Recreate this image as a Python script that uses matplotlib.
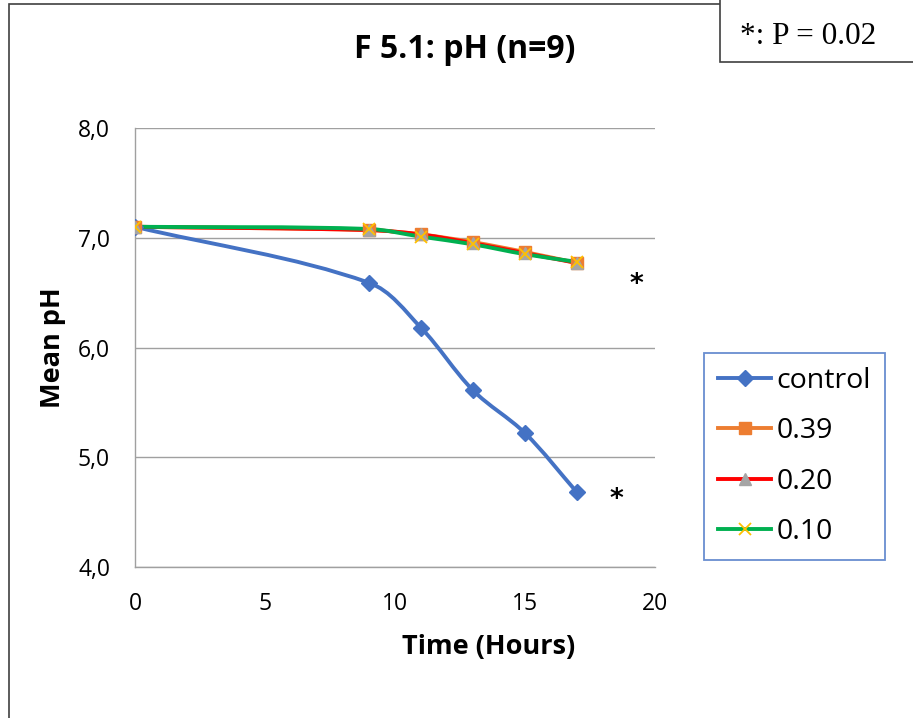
import matplotlib
matplotlib.use("Agg")
import numpy as np
import matplotlib.pyplot as plt
from matplotlib.path import Path
from matplotlib.patches import PathPatch, Rectangle
from matplotlib.lines import Line2D

# sampling times (hours) and mean pH per group
hours = [0, 9, 11, 13, 15, 17]
ph_control = [7.10, 6.59, 6.18, 5.61, 5.22, 4.68]
ph_039 = [7.10, 7.07, 7.03, 6.96, 6.87, 6.77]
ph_020 = [7.10, 7.07, 7.03, 6.95, 6.86, 6.77]
ph_010 = [7.10, 7.08, 7.01, 6.94, 6.85, 6.78]

x_ticks = [0, 5, 10, 15, 20]
y_ticks = [4.0, 5.0, 6.0, 7.0, 8.0]
y_ticklabels = ["4,0", "5,0", "6,0", "7,0", "8,0"]

FONT = "Open Sans"


def smooth_path(ax, xs, ys):
    # smoothed line through the points: cubic bezier segments built in pixel
    # space, tangent from the neighbours, handle length a third of the chord
    pts = ax.transData.transform(np.column_stack([xs, ys]).astype(float))
    n = len(pts)
    verts = [pts[0]]
    codes = [Path.MOVETO]

    def tangent(i):
        a = pts[max(i - 1, 0)]
        b = pts[min(i + 1, n - 1)]
        d = b - a
        return d / np.hypot(*d)

    for i in range(n - 1):
        p1, p2 = pts[i], pts[i + 1]
        h = np.hypot(*(p2 - p1)) / 3.0
        verts += [p1 + tangent(i) * h, p2 - tangent(i + 1) * h, p2]
        codes += [Path.CURVE4] * 3
    verts = ax.transData.inverted().transform(np.array(verts))
    return Path(verts, codes)


series = [
    ("control", ph_control, "#4472C4", dict(marker="D", ms=8, mfc="#4472C4", mec="#4472C4")),
    ("0.39", ph_039, "#ED7D31", dict(marker="s", ms=9, mfc="#ED7D31", mec="#ED7D31")),
    ("0.20", ph_020, "#FF0000", dict(marker="^", ms=9, mfc="#A5A5A5", mec="#A5A5A5")),
    ("0.10", ph_010, "#00B050", dict(marker="x", ms=9, mfc="#FFC000", mec="#FFC000", mew=1.3)),
]

fig = plt.figure(figsize=(9.13, 7.18), dpi=100)
ax = fig.add_axes([135 / 913, 1 - 567 / 718, 520 / 913, 439 / 718])
ax.set_xlim(0, 20)
ax.set_ylim(4.0, 8.0)

handles = []
for name, vals, col, mk in series:
    patch = PathPatch(smooth_path(ax, hours, vals), fill=False, edgecolor=col,
                      lw=2.8, capstyle="round", joinstyle="round", zorder=3)
    ax.add_patch(patch)
    ax.plot(hours, vals, linestyle="none", zorder=4, **mk)
    handles.append(Line2D([], [], color=col, lw=2.8, **mk))

ax.set_xticks(x_ticks)
ax.set_yticks(y_ticks)
ax.set_yticklabels(y_ticklabels)
ax.tick_params(length=0, labelsize=16.5)
ax.tick_params(axis="x", pad=18)
ax.tick_params(axis="y", pad=18)
for lab in ax.get_xticklabels() + ax.get_yticklabels():
    lab.set_fontfamily(FONT)
ax.grid(axis="y", color="#A0A0A0", lw=1.0)
ax.set_axisbelow(True)
for side in ["top", "right"]:
    ax.spines[side].set_visible(False)
for side in ["left", "bottom"]:
    ax.spines[side].set_color("#A0A0A0")
    ax.spines[side].set_linewidth(1.0)

ax.set_xlabel("Time (Hours)", fontsize=19.5, fontweight="bold", family=FONT, va="center")
ax.xaxis.set_label_coords(0.681, -80 / 439)
ax.set_ylabel("Mean pH", fontsize=19.5, fontweight="bold", family=FONT, va="center")
ax.yaxis.set_label_coords(-82 / 520, 0.5)

# significance marks
ax.text(19.27, 6.57, "*", fontsize=19, fontweight="bold", ha="center", va="center")
ax.text(18.5, 4.61, "*", fontsize=19, fontweight="bold", ha="center", va="center")

fig.text(465 / 913, 1 - 50 / 718, "F 5.1: pH (n=9)", fontsize=23, fontweight="bold",
         family=FONT, ha="center", va="center")

leg = fig.legend(handles=handles, labels=[s[0] for s in series],
                 loc="upper left", bbox_to_anchor=(704 / 913, 1 - 353 / 718),
                 prop={"family": FONT, "size": 20.5}, frameon=True, fancybox=False,
                 edgecolor="#4472C4", handlelength=1.85, handletextpad=0.2,
                 labelspacing=0.78, borderpad=0.5, borderaxespad=0)
leg.get_frame().set_linewidth(1.3)

# outer frame and p-value box
fig.patches.append(Rectangle((9 / 913, -0.05), 1.0, 1 - 4 / 718 + 0.05,
                             transform=fig.transFigure, fill=False,
                             edgecolor="#404040", lw=1.2))
fig.patches.append(Rectangle((720 / 913, 1 - 62 / 718), 0.5, 0.2,
                             transform=fig.transFigure, facecolor="white",
                             edgecolor="#404040", lw=1.2))
fig.text(740 / 913, 1 - 37 / 718, "*: P = 0.02", fontsize=22.5,
         family="Liberation Serif", ha="left", va="center")

fig.savefig("out.png", dpi=100)
